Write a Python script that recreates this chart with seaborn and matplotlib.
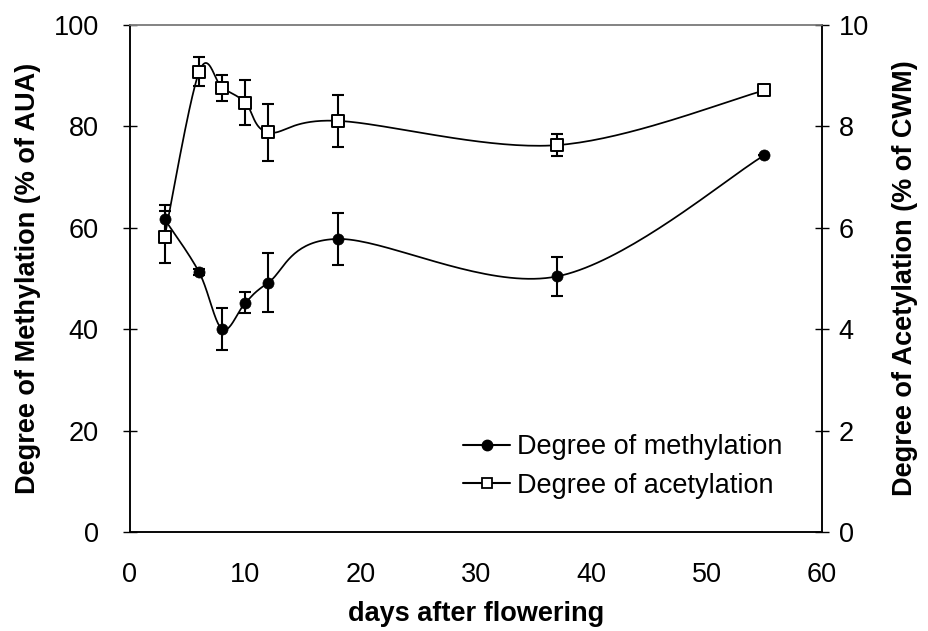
import numpy as np
import pandas as pd
import matplotlib
matplotlib.use("Agg")
import matplotlib.pyplot as plt
import seaborn as sns
from matplotlib.lines import Line2D

# ---- data ----
days = [3, 6, 8, 10, 12, 18, 37, 55]
methylation = [61.7, 51.2, 40.0, 45.2, 49.2, 57.8, 50.4, 74.3]
methylation_err = [2.7, 0.6, 4.1, 2.1, 5.8, 5.2, 3.9, 0.0]
acetylation = [5.82, 9.08, 8.76, 8.47, 7.88, 8.11, 7.63, 8.71]
acetylation_err = [0.52, 0.29, 0.25, 0.45, 0.57, 0.51, 0.22, 0.0]
x_ticks = [0, 10, 20, 30, 40, 50, 60]
left_ticks = [0, 20, 40, 60, 80, 100]
right_ticks = [0, 2, 4, 6, 8, 10]
series_names = ["Degree of methylation", "Degree of acetylation"]

df = pd.DataFrame({"days": days, "methylation": methylation, "m_err": methylation_err,
                   "acetylation": acetylation, "a_err": acetylation_err})

sns.set_style("white")
plt.rcParams["font.family"] = ["Liberation Sans", "DejaVu Sans"]
plt.rcParams["text.color"] = "black"
plt.rcParams["axes.labelcolor"] = "black"
plt.rcParams["xtick.color"] = "black"
plt.rcParams["ytick.color"] = "black"
plt.rcParams["xtick.labelcolor"] = "black"
plt.rcParams["ytick.labelcolor"] = "black"

FS = 19.5


def smooth_path(xs, ys, n=40):
    """Excel-like smoothed line (Catmull-Rom Bezier) through the data points."""
    P = np.column_stack([xs, ys]).astype(float)
    segs = []
    for i in range(len(P) - 1):
        p0 = P[i - 1] if i > 0 else P[i]
        p1, p2 = P[i], P[i + 1]
        p3 = P[i + 2] if i + 2 < len(P) else P[i + 1]
        c1 = p1 + (p2 - p0) / 6.0
        c2 = p2 - (p3 - p1) / 6.0
        t = np.linspace(0, 1, n)[:, None]
        seg = (1 - t) ** 3 * p1 + 3 * (1 - t) ** 2 * t * c1 + 3 * (1 - t) * t ** 2 * c2 + t ** 3 * p2
        segs.append(seg if i == 0 else seg[1:])
    S = np.vstack(segs)
    return S[:, 0], S[:, 1]


fig = plt.figure(figsize=(9.29, 6.31), dpi=100)
ax = fig.add_axes([130 / 929, 1 - 532 / 631, 692 / 929, 507 / 631])
ax2 = ax.twinx()

LW = 1.25
# methylation (left axis)
sx, sy = smooth_path(df["days"], df["methylation"])
ax.plot(sx, sy, color="black", lw=LW, zorder=2)
ax.errorbar(df["days"], df["methylation"], yerr=df["m_err"], fmt="none",
            ecolor="black", elinewidth=1.5, capsize=4.3, capthick=1.5, zorder=3)
sns.scatterplot(data=df, x="days", y="methylation", ax=ax, marker="o", s=64,
                color="black", edgecolor="black", linewidth=0.5, zorder=4, legend=False)

# acetylation (right axis)
sx, sy = smooth_path(df["days"], df["acetylation"])
ax2.plot(sx, sy, color="black", lw=LW, zorder=2)
ax2.errorbar(df["days"], df["acetylation"], yerr=df["a_err"], fmt="none",
             ecolor="black", elinewidth=1.5, capsize=4.3, capthick=1.5, zorder=3)
sns.scatterplot(data=df, x="days", y="acetylation", ax=ax2, marker="s", s=64,
                color="white", edgecolor="black", linewidth=1.4, zorder=4, legend=False)

# axes limits and ticks
ax.set_xlim(0, 60)
ax.set_ylim(0, 100)
ax2.set_ylim(0, 10)
ax.set_xticks(x_ticks)
ax.set_yticks(left_ticks)
ax2.set_yticks(right_ticks)
ax.set_xticklabels([str(v) for v in x_ticks])
ax.set_yticklabels([str(v) for v in left_ticks])
ax2.set_yticklabels([str(v) for v in right_ticks])

ax.tick_params(axis="x", direction="inout", length=10, width=1, color="black",
               labelcolor="black", labelsize=FS, pad=16.5, top=False)
ax.tick_params(axis="y", direction="inout", length=10, width=1, color="black",
               labelcolor="black", labelsize=FS, pad=17.5, right=False)
ax2.tick_params(axis="y", direction="inout", length=10, width=1, color="black",
                labelcolor="black", labelsize=FS, pad=7)

for a in (ax, ax2):
    for side in ("left", "bottom", "right"):
        a.spines[side].set_color("black")
        a.spines[side].set_linewidth(1.1)
    a.spines["top"].set_color("#808080")
    a.spines["top"].set_linewidth(1.1)

# labels
ax.set_xlabel("days after flowering", fontsize=FS, fontweight="bold", va="center",
              color="black")
ax.xaxis.set_label_coords(0.5, (532 - 614) / 507)
ax.set_ylabel("Degree of Methylation (% of AUA)", fontsize=FS, fontweight="bold",
              va="center", color="black")
ax.yaxis.set_label_coords((28 - 130) / 692, 0.5)
ax2.set_ylabel("Degree of Acetylation (% of CWM)", fontsize=FS, fontweight="bold",
               va="center", rotation=90, color="black")
ax2.yaxis.set_label_coords((905 - 130) / 692, 0.5)

# legend
handles = [
    Line2D([], [], color="black", lw=1.5, marker="o", markersize=7.5,
           markerfacecolor="black", markeredgecolor="black"),
    Line2D([], [], color="black", lw=1.5, marker="s", markersize=7.5,
           markerfacecolor="white", markeredgecolor="black", markeredgewidth=1.3),
]
leg = ax2.legend(handles, series_names, loc="upper left",
                 bbox_to_anchor=((463 - 130) / 692, (532 - 434) / 507),
                 frameon=False, fontsize=FS, handlelength=1.74, handletextpad=0.26,
                 labelspacing=0.47, borderpad=0, borderaxespad=0)
for t in leg.get_texts():
    t.set_color("black")

fig.savefig("out.png", dpi=100)
